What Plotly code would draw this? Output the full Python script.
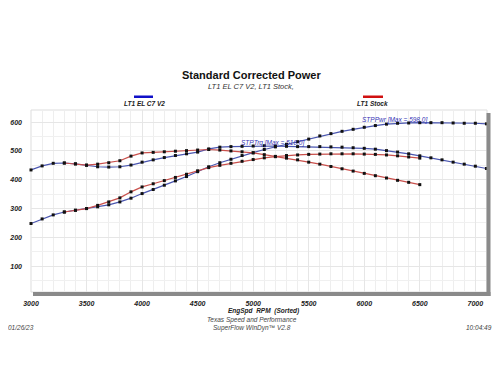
import plotly.graph_objects as go

# ---------------- data ----------------
rpm_v2 = list(range(3000, 7101, 100))
trq_v2 = [434, 448, 457, 458, 455, 450, 445, 444, 445, 451,
          461, 469, 477, 484, 490, 496, 507, 513, 515, 516,
          517, 518, 517, 516, 515, 515, 515, 514, 513, 511,
          509, 506, 501, 496, 490, 483, 476, 469, 461, 454,
          447, 439]
pwr_v2 = [248, 264, 278, 288, 294, 300, 306, 313, 323, 336,
          352, 366, 381, 396, 411, 428, 445, 459, 471, 484,
          494, 505, 514, 523, 532, 541, 552, 560, 568, 575,
          582, 588, 593, 596, 597, 598, 598, 598, 597, 596,
          596, 594]

rpm_stock = list(range(3300, 6501, 100))
trq_stock = [458, 455, 451, 454, 459, 466, 482, 493, 495, 497,
             499, 501, 503, 505, 503, 500, 497, 493, 487, 481,
             475, 469, 461, 454, 446, 438, 430, 422, 414, 406,
             398, 391, 383]
pwr_stock = [288, 294, 300, 311, 323, 337, 358, 375, 386, 397,
             408, 419, 431, 442, 450, 457, 464, 470, 476, 480,
             484, 486, 488, 489, 490, 490, 490, 489, 488, 486,
             483, 479, 475]

x_ticks = [3000, 3500, 4000, 4500, 5000, 5500, 6000, 6500, 7000]
y_ticks = [100, 200, 300, 400, 500, 600]

series_names = ["LT1 EL C7 V2", "LT1 Stock"]
title_text = "Standard Corrected Power"
subtitle_text = "LT1 EL C7 V2, LT1 Stock,"

# ---------------- layout helpers ----------------
# page body has an 8px margin, so the figure is drawn smaller and
# all reference pixel positions are shifted by OFF.
OFF = 8
W, H = 500 - OFF, 379 - 2 * OFF
PLOT_L, PLOT_T, PLOT_B = 31, 110, 292      # reference pixel positions
PW = 456
L = PLOT_L - OFF
T = PLOT_T - OFF
B = H - (PLOT_B - OFF)
R = W - L - PW
PH = H - T - B


def PX(x):
    return (x - PLOT_L) / PW


def PY(y):
    return (PLOT_B - y) / PH


BLUE_LINE = "#4a56b0"
RED_LINE = "#c9504c"
FONT = "Liberation Sans, Arial, sans-serif"

fig = go.Figure()

for xs, ys, col in [(rpm_v2, trq_v2, BLUE_LINE), (rpm_v2, pwr_v2, BLUE_LINE),
                    (rpm_stock, trq_stock, RED_LINE), (rpm_stock, pwr_stock, RED_LINE)]:
    fig.add_trace(go.Scatter(
        x=xs, y=ys, mode="lines+markers",
        line=dict(color=col, width=1.2),
        marker=dict(symbol="square", size=3, color="#111111"),
        showlegend=False, hoverinfo="skip", cliponaxis=False))

tickfont = dict(family=FONT, size=7, color="#222", weight="bold", style="italic")

fig.update_layout(
    width=W, height=H,
    margin=dict(l=L, r=R, t=T, b=B, pad=0, autoexpand=False),
    paper_bgcolor="white", plot_bgcolor="white",
    font=dict(family=FONT, color="#222"),
    xaxis=dict(range=[3000, 7105], tickvals=x_ticks, ticktext=[str(v) for v in x_ticks],
               showgrid=True, gridcolor="#e6e6e6", gridwidth=1,
               minor=dict(dtick=100, tick0=3000, showgrid=True, gridcolor="#eeeeee", gridwidth=1),
               zeroline=False, showline=False, ticks="", tickfont=tickfont,
               ticklabelstandoff=6, automargin=False),
    yaxis=dict(range=[10.4, 642], tickvals=y_ticks, ticktext=[str(v) for v in y_ticks],
               showgrid=True, gridcolor="#e6e6e6", gridwidth=1,
               minor=dict(dtick=50, tick0=0, showgrid=True, gridcolor="#f0f0f0", gridwidth=1),
               zeroline=False, showline=False, ticks="", tickfont=tickfont,
               ticklabelstandoff=8, automargin=False),
)

shapes = []
shapes.append(dict(type="rect", xref="paper", yref="paper", x0=0, x1=1, y0=0, y1=1,
                   line=dict(color="#dddddd", width=1), layer="below"))
# gray frame bars (bottom and right)
shapes.append(dict(type="rect", xref="paper", yref="paper",
                   x0=PX(33), x1=PX(490.5), y0=PY(296), y1=PY(292),
                   fillcolor="#8a8a8a", line=dict(width=0)))
shapes.append(dict(type="rect", xref="paper", yref="paper",
                   x0=PX(486.5), x1=PX(490.5), y0=PY(296), y1=PY(113),
                   fillcolor="#8a8a8a", line=dict(width=0)))
# legend bars
shapes.append(dict(type="rect", xref="paper", yref="paper",
                   x0=PX(134), x1=PX(153), y0=PY(98), y1=PY(95.5),
                   fillcolor="#1010c8", line=dict(width=0)))
shapes.append(dict(type="rect", xref="paper", yref="paper",
                   x0=PX(363), x1=PX(383), y0=PY(98), y1=PY(95.5),
                   fillcolor="#d01010", line=dict(width=0)))
fig.update_layout(shapes=shapes)


def ann(text, x, y, size=7, bold=False, italic=True, color="#222", xanchor="center"):
    fig.add_annotation(text=text, xref="paper", yref="paper", x=PX(x), y=PY(y),
                       xanchor=xanchor, yanchor="middle", showarrow=False,
                       font=dict(family=FONT, size=size, color=color,
                                 weight="bold" if bold else "normal",
                                 style="italic" if italic else "normal"))


ann(title_text, 251, 75, size=11, bold=True, italic=False, color="#111")
ann(subtitle_text, 251, 86, size=7.5, color="#333")
ann(series_names[0], 144, 103.5, size=6.5, bold=True)
ann(series_names[1], 372, 103.5, size=6.5, bold=True)
ann("STPTrq [Max = %.1f]" % max(trq_v2), 272.5, 142.5, size=6.5, color="#3535b5")
ann("STPPwr [Max = %.1f]" % max(pwr_v2), 394.5, 119.5, size=6.5, color="#3535b5")
ann("EngSpd  RPM  (Sorted)", 263, 311, size=6.5, bold=True)
ann("Texas Speed and Performance", 252, 320, size=6.5, color="#444")
ann("SuperFlow WinDyn\u2122 V2.8", 252, 328, size=6.5, color="#444")
ann("01/26/23", 21, 327, size=6.5, color="#444")
ann("10:04:49", 494, 327, size=6.5, color="#444", xanchor="right")

fig.write_html("out.html")
